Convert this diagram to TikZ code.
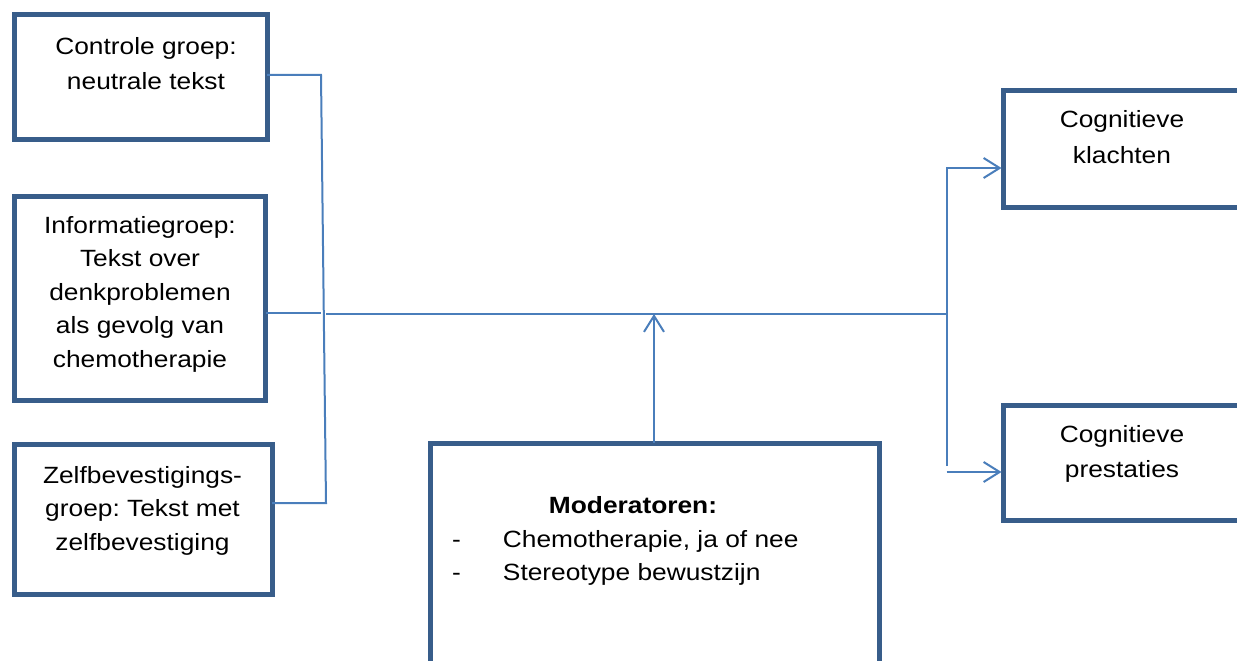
\documentclass[tikz,border=0pt]{standalone}
\usepackage{fontspec}
\setmainfont{Liberation Sans}
\usetikzlibrary{arrows.meta}
\definecolor{boxblue}{HTML}{385D8A}
\definecolor{linkblue}{HTML}{4A7EBB}
\frenchspacing
\newcommand\txtblock[2]{\scalebox{1.12}[1]{\fontsize{23.5}{#1}\selectfont\begin{tabular}[t]{@{}c@{}}#2\end{tabular}}}
\begin{document}
\begin{tikzpicture}[x=1pt,y=-1pt,
  box/.style={draw=boxblue, line width=5pt, inner sep=0pt, outer sep=0pt},
  conn/.style={draw=linkblue, line width=2pt},
  tip/.style={-{Straight Barb[length=16pt,width=20pt]}},
  txt/.style={inner sep=0pt, outer sep=0pt, text=black}]
\useasboundingbox (0,0) rectangle (1237,661);
\clip (0,0) rectangle (1237,661);
% boxes
\node[box, minimum width=253pt, minimum height=124pt] (c1) at (140.5,77) {};
\node[box, minimum width=251pt, minimum height=204pt] (c2) at (140,298) {};
\node[box, minimum width=257.5pt, minimum height=150pt] (c3) at (143.25,519) {};
\node[box, minimum width=237.5pt, minimum height=117.5pt] (r1) at (1122.25,148.75) {};
\node[box, minimum width=237.5pt, minimum height=115pt] (r2) at (1122.25,462.5) {};
\node[box, minimum width=449pt, minimum height=257pt] (mod) at (655,571.5) {};
% texts
\node[txt, anchor=base] (t1) at (146,55) {\txtblock{35pt}{Controle groep:\\neutrale tekst}};
\node[txt, anchor=base] (t2) at (140,233) {\txtblock{33.5pt}{Informatiegroep:\\Tekst over\\denkproblemen\\als gevolg van\\chemotherapie}};
\node[txt, anchor=base] (t3) at (142.5,483) {\txtblock{33.5pt}{Zelfbevestigings-\\groep: Tekst met\\zelfbevestiging}};
\node[txt, anchor=base] (t4) at (1122,127) {\txtblock{36pt}{Cognitieve\\klachten}};
\node[txt, anchor=base] (t5) at (1122,442) {\txtblock{35pt}{Cognitieve\\prestaties}};
\node[txt, anchor=base] (t6) at (633,513) {\scalebox{1.12}[1]{\fontsize{23.5}{33}\selectfont\bfseries Moderatoren:}};
\node[txt, anchor=base west] (t7) at (452,547) {\scalebox{1.12}[1]{\fontsize{23.5}{33}\selectfont\begin{tabular}[t]{@{}l@{}}\makebox[45.5pt][l]{-}Chemotherapie, ja of nee\\\makebox[45.5pt][l]{-}Stereotype bewustzijn\end{tabular}}};
% connector points
\coordinate (j1) at (321,75);
\coordinate (j2) at (320.5,313);
\coordinate (j3) at (326,503);
\coordinate (m0) at (326,314);
\coordinate (hub) at (654,314);
\coordinate (fork) at (946.5,314);
\coordinate (ftop) at (946.5,168);
\coordinate (fbot) at (946.5,466);
\coordinate (b2) at (946.5,472);
% connectors
\draw[conn] (c1.east |- j1) -- (j1) -- (j3) -- (c3.east |- j3);
\draw[conn] (c2.east |- j2) -- (j2);
\draw[conn] (m0) -- (fork);
\draw[conn, tip, shorten >=2pt] (fbot) -- (ftop) -- (r1.west |- ftop);
\draw[conn, tip, shorten >=2pt] (b2) -- (r2.west |- b2);
\draw[conn, tip] (mod.north -| hub) -- (hub);
\end{tikzpicture}
\end{document}
